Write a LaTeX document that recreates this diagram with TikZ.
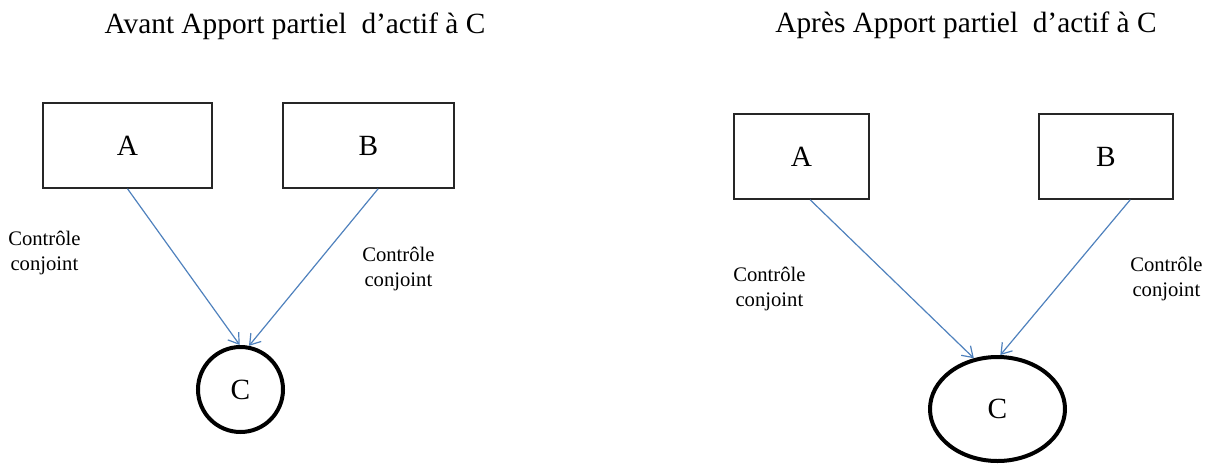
\documentclass[tikz,border=0pt]{standalone}
\usepackage{fontspec}
\setmainfont{Liberation Serif}
\usetikzlibrary{shapes.geometric,arrows.meta,calc}
\definecolor{arrowblue}{RGB}{79,129,189}
\tikzset{
  box/.style={draw=black!85, line width=1.1pt, rectangle, inner sep=0pt, font=\fontsize{22}{26}\selectfont},
  entity/.style={draw=black, line width=3pt, inner sep=0pt, font=\fontsize{22}{26}\selectfont},
  link/.style={draw=arrowblue, line width=0.9pt, -{Straight Barb[length=7.5pt,width=10pt]}},
  lbl/.style={inner sep=0pt, align=center, anchor=north west, font=\fontsize{15.5}{19}\selectfont},
  title/.style={inner sep=0pt, anchor=base, font=\fontsize{22}{26}\selectfont}
}
\begin{document}
\begin{tikzpicture}[x=0.75pt,y=-0.75pt]
\useasboundingbox (0,0) rectangle (1215,465);
% titles
\node[title] (t1) at (295,33) {Avant Apport partiel\ \ d’actif à C};
\node[title] (t2) at (966,32) {Après Apport partiel\ \ d’actif à C};
% left diagram
\node[box, minimum width=126.75pt, minimum height=63.75pt] (A1) at (127.5,145.5) {A};
\node[box, minimum width=128.25pt, minimum height=63.75pt] (B1) at (368.5,145.5) {B};
\node[entity, circle, minimum size=63.75pt] (C1) at (240.5,389.5) {C};
\draw[link] (A1.south) -- (C1.91);
\draw[link] ($(B1.south west)!0.556!(B1.south east)$) -- (C1.79);
\node[lbl] (l1) at (8,231) {Contrôle\\conjoint};
\node[lbl] (l2) at (362,247) {Contrôle\\conjoint};
% right diagram
\node[box, minimum width=101.25pt, minimum height=63.75pt] (A2) at (801.5,156.5) {A};
\node[box, minimum width=100.5pt, minimum height=63.75pt] (B2) at (1106,156.5) {B};
\node[entity, ellipse, minimum width=101.25pt, minimum height=78pt] (C2) at (997.5,409) {C};
\draw[link] ($(A2.south west)!0.563!(A2.south east)$) -- (C2.115);
\draw[link] ($(B2.south west)!0.679!(B2.south east)$) -- (C2.87);
\node[lbl] (l3) at (733,267) {Contrôle\\conjoint};
\node[lbl] (l4) at (1130,257) {Contrôle\\conjoint};
\end{tikzpicture}
\end{document}
